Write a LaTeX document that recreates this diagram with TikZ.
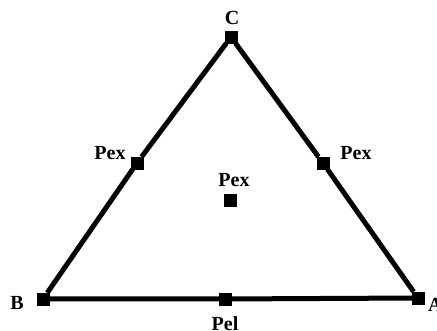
\documentclass[tikz,border=0pt]{standalone}
\usepackage{fontspec}
\setmainfont{Liberation Serif}
\usetikzlibrary{positioning}

\begin{document}
\begin{tikzpicture}[x=1pt,y=1pt,
  sq/.style={draw,rectangle,fill=black,minimum size=12pt,inner sep=0pt},
  lbl/.style={font=\fontsize{20}{24}\selectfont\bfseries,inner sep=0pt}]
\useasboundingbox (0,0) rectangle (437,331);
\node[sq] (B) at (43,32) {};
\node[sq] (A) at (418,33) {};
\node[sq] (C) at (231,294) {};
\node[sq] (mBC) at (137,168) {};
\node[sq] (mAC) at (323,168) {};
\node[sq] (mAB) at (225,32) {};
\node[sq] (mid) at (230,131) {};
\draw[line width=5pt] (B) -- (mAB) -- (A) -- (mAC) -- (C) -- (mBC) -- (B);
\node[lbl] (lC) at (232,313) {C};
\node[lbl] (lB) at (17,28) {B};
\node[lbl,anchor=west] (lA) at (428,26) {A};
\node[lbl] (lBC) at (110,178) {Pex};
\node[lbl] (lAC) at (356,178) {Pex};
\node[lbl] (lmid) at (234,151) {Pex};
\node[lbl] (lAB) at (225,7) {Pel};
\end{tikzpicture}
\end{document}
